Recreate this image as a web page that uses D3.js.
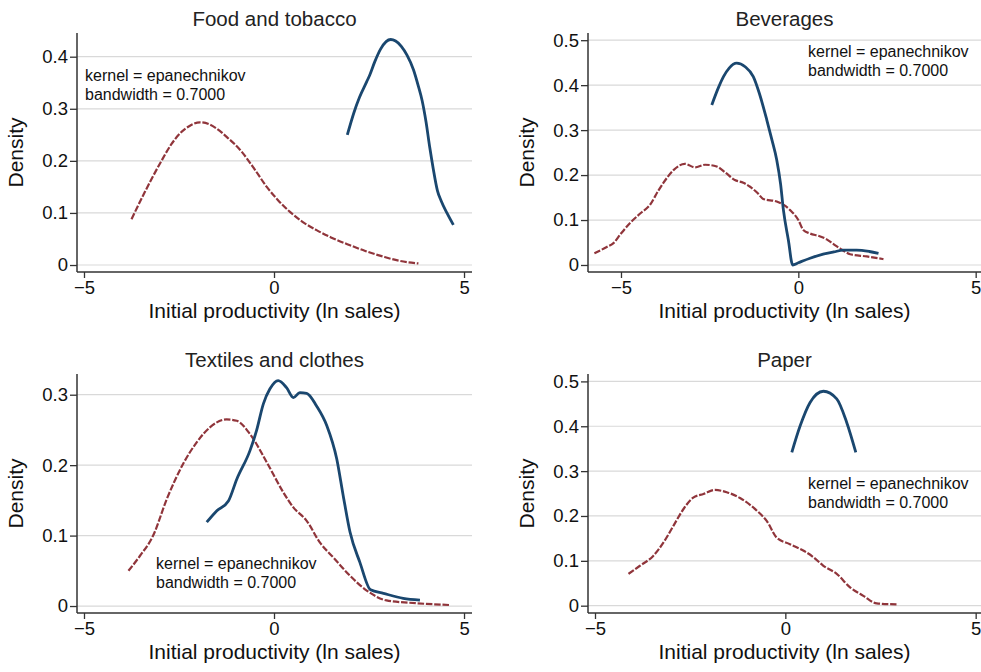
<!DOCTYPE html>
<html>
<head>
<meta charset="utf-8">
<script src="https://cdn.jsdelivr.net/npm/d3@7"></script>
<style>
  html, body { margin: 0; padding: 0; background: #fff; }
  svg { display: block; font-family: "Liberation Sans", Arial, Helvetica, sans-serif; }
</style>
</head>
<body>
<svg id="chart" width="981" height="672"></svg>
<script>
// Kernel density estimates of initial productivity, by industry.
// Each series is a list of [ln sales, density] points.
const panelTitles = ["Food and tobacco", "Beverages", "Textiles and clothes", "Paper"];

const foodSolid = [[1.93,0.250],[2.1,0.292],[2.25,0.322],[2.44,0.352],[2.52,0.365],[2.65,0.390],[2.8,0.414],[2.95,0.429],[3.07,0.433],[3.2,0.430],[3.35,0.420],[3.5,0.403],[3.67,0.375],[3.8,0.343],[3.9,0.315],[4.0,0.275],[4.1,0.225],[4.19,0.185],[4.3,0.143],[4.4,0.123],[4.55,0.100],[4.72,0.077]];
const foodDashed = [[-3.75,0.088],[-3.4,0.140],[-3.0,0.195],[-2.7,0.232],[-2.47,0.253],[-2.2,0.268],[-1.95,0.274],[-1.7,0.270],[-1.51,0.262],[-1.2,0.243],[-0.89,0.221],[-0.55,0.188],[-0.19,0.150],[0.1,0.125],[0.42,0.102],[0.75,0.083],[1.12,0.067],[1.5,0.053],[2.0,0.038],[2.4,0.027],[2.88,0.016],[3.3,0.008],[3.8,0.003]];

const bevSolid = [[-2.44,0.356],[-2.25,0.395],[-2.11,0.419],[-1.95,0.438],[-1.74,0.449],[-1.5,0.441],[-1.27,0.419],[-1.1,0.382],[-0.89,0.323],[-0.75,0.280],[-0.61,0.234],[-0.5,0.180],[-0.42,0.122],[-0.28,0.055],[-0.16,0.0],[0.0,0.005],[0.33,0.015],[0.70,0.024],[1.0,0.029],[1.27,0.033],[1.64,0.033],[2.0,0.030],[2.26,0.026]];
const bevDashed = [[-5.75,0.026],[-5.4,0.040],[-5.22,0.048],[-5.0,0.070],[-4.75,0.093],[-4.45,0.115],[-4.18,0.134],[-3.95,0.165],[-3.81,0.182],[-3.52,0.211],[-3.2,0.225],[-2.91,0.217],[-2.63,0.223],[-2.30,0.219],[-2.05,0.205],[-1.79,0.189],[-1.55,0.183],[-1.36,0.174],[-1.15,0.160],[-0.99,0.147],[-0.61,0.141],[-0.4,0.133],[-0.23,0.122],[0.0,0.100],[0.14,0.078],[0.33,0.070],[0.6,0.064],[0.80,0.057],[1.0,0.046],[1.17,0.037],[1.46,0.024],[1.93,0.019],[2.40,0.013]];

const texSolid = [[-1.77,0.119],[-1.51,0.135],[-1.20,0.149],[-0.98,0.180],[-0.63,0.221],[-0.46,0.249],[-0.28,0.287],[-0.11,0.308],[0.11,0.320],[0.33,0.310],[0.51,0.296],[0.68,0.303],[0.86,0.302],[1.12,0.284],[1.39,0.256],[1.65,0.209],[1.82,0.157],[2.0,0.105],[2.26,0.062],[2.54,0.023],[2.88,0.018],[3.40,0.011],[3.84,0.0085]];
const texDashed = [[-3.83,0.050],[-3.53,0.071],[-3.18,0.100],[-2.82,0.152],[-2.39,0.202],[-2.04,0.232],[-1.68,0.254],[-1.25,0.265],[-0.98,0.263],[-0.63,0.244],[-0.19,0.204],[0.25,0.161],[0.51,0.140],[0.86,0.121],[1.21,0.090],[1.56,0.069],[2.0,0.043],[2.44,0.022],[2.96,0.008],[3.75,0.004],[4.63,0.0014]];

const paperSolid = [[0.17,0.342],[0.39,0.401],[0.65,0.453],[1.0,0.478],[1.35,0.461],[1.61,0.409],[1.85,0.342]];
const paperDashed = [[-4.12,0.071],[-3.82,0.089],[-3.47,0.111],[-3.20,0.141],[-2.94,0.178],[-2.68,0.215],[-2.42,0.241],[-2.15,0.249],[-1.85,0.258],[-1.54,0.253],[-1.19,0.240],[-0.75,0.212],[-0.49,0.189],[-0.23,0.152],[0.12,0.137],[0.47,0.123],[0.74,0.108],[1.0,0.089],[1.35,0.071],[1.70,0.041],[2.05,0.022],[2.40,0.005],[2.92,0.003]];

const xTicks = [-5, 0, 5];
const yTicksFood = [0, 0.1, 0.2, 0.3, 0.4];
const yTicksBev = [0, 0.1, 0.2, 0.3, 0.4, 0.5];
const yTicksTex = [0, 0.1, 0.2, 0.3];
const yTicksPaper = [0, 0.1, 0.2, 0.3, 0.4, 0.5];

const noteLines = ["kernel = epanechnikov", "bandwidth = 0.7000"];
const xTitle = "Initial productivity (ln sales)";
const yTitle = "Density";

// Panel layout: plot rectangle, scale domains and note position
const panels = [
  { title: panelTitles[0], solid: foodSolid, dashed: foodDashed, yTicks: yTicksFood,
    box: { l: 77, r: 472, t: 33, b: 272 }, xd: [-5.184, 5.21], yd: [-0.0134, 0.4455],
    note: { x: 85, y: 81 } },
  { title: panelTitles[1], solid: bevSolid, dashed: bevDashed, yTicks: yTicksBev,
    box: { l: 588, r: 981, t: 33, b: 272 }, xd: [-5.93, 5.15], yd: [-0.0156, 0.516],
    note: { x: 808, y: 57 } },
  { title: panelTitles[2], solid: texSolid, dashed: texDashed, yTicks: yTicksTex,
    box: { l: 77, r: 472, t: 374, b: 613 }, xd: [-5.184, 5.21], yd: [-0.0099, 0.3294],
    note: { x: 156, y: 569 } },
  { title: panelTitles[3], solid: paperSolid, dashed: paperDashed, yTicks: yTicksPaper,
    box: { l: 588, r: 981, t: 374, b: 613 }, xd: [-5.184, 5.14], yd: [-0.0163, 0.5165],
    note: { x: 808, y: 489 } }
];

const svg = d3.select("#chart");
const BLUE = "#1a476f", RED = "#90353b";
const fmtY = d => d === 0 ? "0" : d3.format(".1f")(d);
const fmtX = d => d < 0 ? "\u2212" + Math.abs(d) : String(d);

panels.forEach(p => {
  const { l, r, t, b } = p.box;
  const x = d3.scaleLinear().domain(p.xd).range([l, r]);
  const y = d3.scaleLinear().domain(p.yd).range([b, t]);
  const g = svg.append("g");

  // horizontal grid
  g.append("g").selectAll("line").data(p.yTicks).join("line")
    .attr("x1", l).attr("x2", r)
    .attr("y1", d => y(d)).attr("y2", d => y(d))
    .attr("stroke", "#d9d9d9").attr("stroke-width", 1.2);

  // axes
  const yAxis = g.append("g").attr("transform", `translate(${l},0)`)
    .call(d3.axisLeft(y).tickValues(p.yTicks).tickFormat(fmtY).tickSize(7).tickPadding(2));
  const xAxis = g.append("g").attr("transform", `translate(0,${b})`)
    .call(d3.axisBottom(x).tickValues(xTicks).tickFormat(fmtX).tickSize(6).tickPadding(3));
  [yAxis, xAxis].forEach(a => {
    a.select(".domain").remove();
    a.selectAll(".tick line").attr("stroke", "#333").attr("stroke-width", 1.3);
    a.selectAll(".tick text").attr("fill", "#111").style("font-size", "18.5px")
      .style("font-family", "'Liberation Sans', Arial, sans-serif");
  });
  g.append("line").attr("x1", l).attr("x2", l).attr("y1", t).attr("y2", b)
    .attr("stroke", "#333").attr("stroke-width", 1.5);
  g.append("line").attr("x1", l).attr("x2", r).attr("y1", b).attr("y2", b)
    .attr("stroke", "#333").attr("stroke-width", 1.5);

  // density curves
  const line = d3.line().x(d => x(d[0])).y(d => y(d[1])).curve(d3.curveMonotoneX);
  g.append("path").datum(p.dashed).attr("d", line)
    .attr("fill", "none").attr("stroke", RED).attr("stroke-width", 2.2)
    .attr("stroke-dasharray", "6.5,1.8");
  g.append("path").datum(p.solid).attr("d", line)
    .attr("fill", "none").attr("stroke", BLUE).attr("stroke-width", 2.8)
    .attr("stroke-linejoin", "round");

  // titles
  g.append("text").attr("x", (l + r) / 2).attr("y", t - 7)
    .attr("text-anchor", "middle").attr("fill", "#222").style("font-size", "20.5px")
    .text(p.title);
  g.append("text").attr("x", (l + r) / 2).attr("y", b + 46)
    .attr("text-anchor", "middle").attr("fill", "#111").style("font-size", "21px")
    .text(xTitle);
  g.append("text")
    .attr("transform", `translate(${l - 54},${(t + b) / 2}) rotate(-90)`)
    .attr("text-anchor", "middle").attr("fill", "#111").style("font-size", "21px")
    .text(yTitle);

  // kernel note
  g.append("g").selectAll("text").data(noteLines).join("text")
    .attr("x", p.note.x).attr("y", (d, i) => p.note.y + i * 19)
    .attr("fill", "#111").style("font-size", "16px")
    .text(d => d);
});
</script>
</body>
</html>
